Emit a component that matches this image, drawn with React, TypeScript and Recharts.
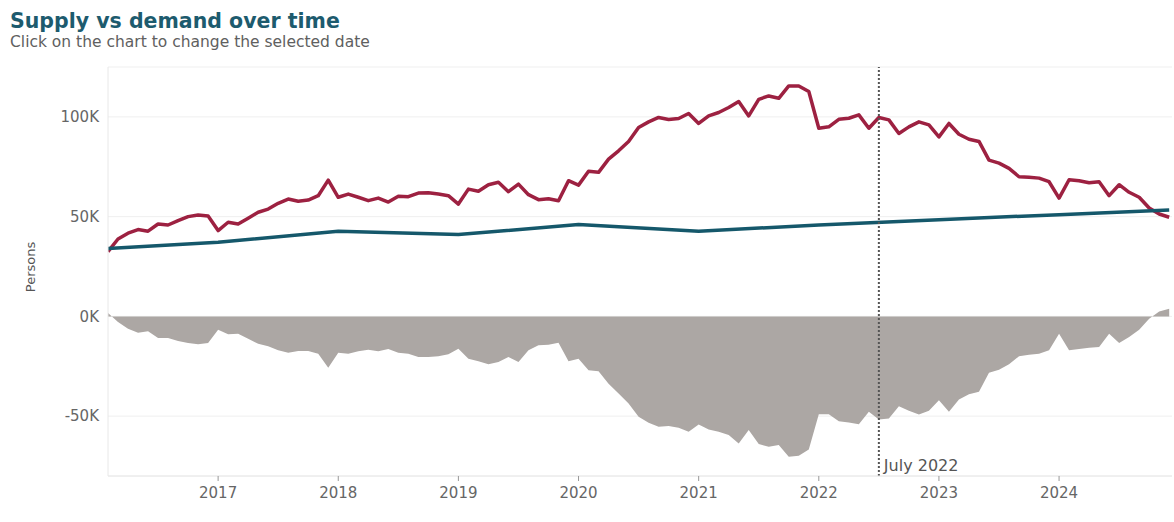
import React from 'react';
import {
  ComposedChart,
  Line,
  Area,
  XAxis,
  YAxis,
  CartesianGrid,
  ReferenceLine,
} from 'recharts';

// Monthly categories (YYYY-MM)
const months = [
  '2016-02', '2016-03', '2016-04', '2016-05', '2016-06', '2016-07', '2016-08', '2016-09', '2016-10', '2016-11', '2016-12',
  '2017-01', '2017-02', '2017-03', '2017-04', '2017-05', '2017-06', '2017-07', '2017-08', '2017-09', '2017-10', '2017-11', '2017-12',
  '2018-01', '2018-02', '2018-03', '2018-04', '2018-05', '2018-06', '2018-07', '2018-08', '2018-09', '2018-10', '2018-11', '2018-12',
  '2019-01', '2019-02', '2019-03', '2019-04', '2019-05', '2019-06', '2019-07', '2019-08', '2019-09', '2019-10', '2019-11', '2019-12',
  '2020-01', '2020-02', '2020-03', '2020-04', '2020-05', '2020-06', '2020-07', '2020-08', '2020-09', '2020-10', '2020-11', '2020-12',
  '2021-01', '2021-02', '2021-03', '2021-04', '2021-05', '2021-06', '2021-07', '2021-08', '2021-09', '2021-10', '2021-11', '2021-12',
  '2022-01', '2022-02', '2022-03', '2022-04', '2022-05', '2022-06', '2022-07', '2022-08', '2022-09', '2022-10', '2022-11', '2022-12',
  '2023-01', '2023-02', '2023-03', '2023-04', '2023-05', '2023-06', '2023-07', '2023-08', '2023-09', '2023-10', '2023-11', '2023-12',
  '2024-01', '2024-02', '2024-03', '2024-04', '2024-05', '2024-06', '2024-07', '2024-08', '2024-09', '2024-10', '2024-11', '2024-12',
];

// Demand (persons), monthly
const demand = [
  32500, 38800, 41700, 43500, 42700, 46300, 45800, 48000, 50000, 50800, 50300,
  43000, 47200, 46300, 49200, 52200, 53800, 56700, 58800, 57700, 58300, 60500, 68300,
  59700, 61300, 59700, 58000, 59300, 57300, 60200, 60000, 61800, 62000, 61300, 60500,
  56300, 63800, 62700, 66000, 67200, 62500, 66300, 61000, 58500, 59000, 58000, 68000,
  65800, 72700, 72200, 78800, 83000, 87700, 94700, 97500, 99700, 98700, 99200, 101700,
  96700, 100500, 102200, 104700, 107700, 100500, 108800, 110500, 109300, 115500, 115500, 112700,
  94300, 95000, 98800, 99300, 101000, 94300, 99700, 98500, 91700, 95000, 97500, 96000,
  90000, 96700, 91300, 88800, 87700, 78300, 76800, 74200, 70000, 69700, 69300, 67500,
  59300, 68500, 68000, 67000, 67500, 60500, 66000, 62200, 59700, 54300, 51300, 49700,
];

// Gap (supply minus demand, persons), monthly
const gap = [
  1700, -2800, -6200, -8200, -7500, -10800, -10800, -12300, -13300, -14000, -13300,
  -6700, -9000, -8700, -11200, -13700, -15000, -17000, -18200, -17300, -17300, -18700, -25700,
  -18200, -18700, -17500, -16700, -17500, -16300, -18200, -18700, -20300, -20300, -20000, -19000,
  -16200, -21200, -22500, -24000, -22800, -20300, -22800, -17000, -14500, -14200, -13200, -22500,
  -21200, -27000, -27500, -33700, -38700, -43700, -50300, -53300, -55300, -55000, -55800, -57800,
  -54200, -56700, -57800, -59500, -63700, -57000, -64000, -65300, -64500, -70300, -69800, -66700,
  -49000, -49000, -52500, -53200, -54000, -47800, -51700, -51200, -45000, -47300, -49200, -47300,
  -42000, -47800, -41700, -39000, -37800, -28300, -26700, -24000, -20000, -19200, -18700, -17000,
  -8700, -17000, -16300, -15700, -15300, -8700, -13300, -10300, -6700, -1200, 2500, 3800,
];

// Supply (persons), at the line's vertices
const supplyMonths = ['2016-02', '2017-01', '2018-01', '2019-01', '2020-01', '2021-01', '2022-01', '2023-01', '2024-01', '2024-12'];
const supplyValues = [34000, 37200, 42700, 41000, 46000, 42700, 45800, 48500, 51000, 53300];

const yearTicks = [2017, 2018, 2019, 2020, 2021, 2022, 2023, 2024];
const yTicks = [-50000, 0, 50000, 100000];
const selectedMonth = '2022-07';
const selectedLabel = 'July 2022';

const toYear = (m: string) => {
  const [y, mo] = m.split('-').map(Number);
  return y + (mo - 1) / 12;
};

const supplyByMonth = new Map<string, number>(supplyMonths.map((m, i) => [m, supplyValues[i]]));

const data = months.map((m, i) => ({
  t: toYear(m),
  demand: demand[i],
  gap: gap[i],
  supply: supplyByMonth.has(m) ? supplyByMonth.get(m) : null,
}));

const FONT = '"DejaVu Sans", Verdana, sans-serif';

export default function App() {
  return (
    <div
      style={{
        position: 'absolute',
        left: 0,
        top: 0,
        width: 1174,
        height: 522,
        background: '#fff',
        fontFamily: FONT,
        overflow: 'hidden',
      }}
    >
      <div
        style={{
          position: 'absolute',
          left: 10,
          top: 11,
          fontSize: 20.5,
          lineHeight: '21px',
          fontWeight: 'bold',
          color: '#1d5b6e',
          whiteSpace: 'nowrap',
        }}
      >
        Supply vs demand over time
      </div>
      <div
        style={{
          position: 'absolute',
          left: 10,
          top: 34,
          fontSize: 15.5,
          lineHeight: '16px',
          color: '#606060',
          whiteSpace: 'nowrap',
        }}
      >
        Click on the chart to change the selected date
      </div>
      <div
        style={{
          position: 'absolute',
          left: 30,
          top: 267,
          transform: 'translate(-50%, -50%) rotate(-90deg)',
          fontSize: 13,
          color: '#555',
          whiteSpace: 'nowrap',
        }}
      >
        Persons
      </div>
      <div style={{ position: 'absolute', left: 0, top: 0 }}>
        <ComposedChart
          width={1174}
          height={522}
          data={data}
          margin={{ top: 67, right: 2, bottom: 0, left: 0 }}
          style={{ fontFamily: FONT }}
        >
          <CartesianGrid horizontal vertical={false} stroke="#efefef" strokeWidth={1} />
          <XAxis
            type="number"
            dataKey="t"
            domain={[toYear('2016-02'), 2024.94]}
            allowDataOverflow
            ticks={yearTicks}
            tickFormatter={(v: number) => String(Math.round(v))}
            height={46}
            tick={{ fill: '#666', fontSize: 15 }}
            tickLine={{ stroke: '#999' }}
            tickSize={5}
            tickMargin={6}
            axisLine={{ stroke: '#e8e8e8' }}
          />
          <YAxis
            type="number"
            width={108}
            domain={[-80000, 125000]}
            allowDataOverflow
            ticks={yTicks}
            tickFormatter={(v: number) => `${v / 1000}K`}
            tick={{ fill: '#666', fontSize: 15 }}
            tickLine={false}
            tickSize={0}
            tickMargin={9}
            axisLine={{ stroke: '#e8e8e8' }}
          />
          <Area
            type="linear"
            dataKey="gap"
            fill="#aca7a4"
            fillOpacity={1}
            stroke="none"
            isAnimationActive={false}
          />
          <Line
            type="linear"
            dataKey="demand"
            stroke="#9d2141"
            strokeWidth={3.5}
            strokeLinejoin="round"
            dot={false}
            activeDot={false}
            isAnimationActive={false}
          />
          <Line
            type="linear"
            dataKey="supply"
            stroke="#15586b"
            strokeWidth={3.5}
            strokeLinejoin="round"
            dot={false}
            activeDot={false}
            connectNulls
            isAnimationActive={false}
          />
          <ReferenceLine
            x={toYear(selectedMonth)}
            stroke="#555"
            strokeWidth={2}
            strokeDasharray="2 2"
            label={{
              value: selectedLabel,
              position: 'insideBottomLeft',
              offset: 5,
              fill: '#555',
              fontSize: 16,
            }}
          />
        </ComposedChart>
      </div>
    </div>
  );
}
